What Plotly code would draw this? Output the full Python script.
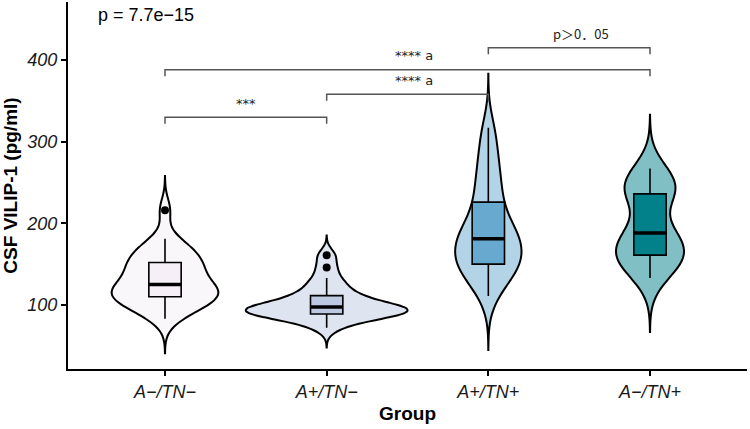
import numpy as np
import plotly.graph_objects as go

# ---------------- data ----------------
categories = ["A−/TN−", "A+/TN−", "A+/TN+", "A−/TN+"]

vals_a_neg_tn_neg = [83, 92, 97, 101, 104, 107, 110, 112, 115, 118, 120, 122, 125,
                     130, 136, 141, 145, 149, 152, 157, 162, 167, 172, 181, 216]
vals_a_pos_tn_neg = [72, 80, 85, 87, 88, 89, 89, 92, 94, 96, 97, 98, 99, 101, 104,
                     110, 112, 118, 125, 133, 146, 161]
vals_a_pos_tn_pos = [111, 128, 138, 144, 148, 150, 158, 165, 171, 176, 181, 186, 192,
                     200, 212, 226, 240, 255, 272, 292, 317]
vals_a_neg_tn_pos = [133, 148, 156, 161, 168, 174, 188, 194, 232, 236, 246, 252, 267]

group_values = [vals_a_neg_tn_neg, vals_a_pos_tn_neg, vals_a_pos_tn_pos, vals_a_neg_tn_pos]

y_ticks = [100, 200, 300, 400]

p_overall = "p = 7.7e−15"
comparison_pairs = [(0, 1), (1, 2), (0, 3), (2, 3)]
comparison_labels = ["***", "**** a", "**** a", "p＞0．05"]

# ---------------- styling ----------------
box_colors = ["#f6eff7", "#bdc9e1", "#67a9cf", "#02818a"]
violin_widths = [0.66, 1.0, 0.41, 0.42]
bandwidths = [14, 8, 22, 22]
bracket_levels = [330, 358, 388, 415]
label_xshift = [0, 6, 6, 12]
tip = 8
box_w = 0.2
FONT = "Liberation Sans, Arial, sans-serif"
CJK = "Noto Sans CJK SC"
STAR_FONT = "DejaVu Sans"


def hex_to_rgba(h, a):
    h = h.lstrip("#")
    r, g, b = int(h[0:2], 16), int(h[2:4], 16), int(h[4:6], 16)
    return f"rgba({r},{g},{b},{a})"


fig = go.Figure()

for i, (vals, col) in enumerate(zip(group_values, box_colors)):
    v = np.array(vals, dtype=float)
    bw = bandwidths[i]
    fig.add_trace(go.Violin(
        x=[i] * len(v), y=v,
        width=violin_widths[i], scalemode="width",
        bandwidth=bw, spanmode="manual", span=[v.min() - 3 * bw, v.max() + 3 * bw],
        fillcolor=hex_to_rgba(col, 0.5), line=dict(color="black", width=2),
        points=False, box_visible=False, meanline_visible=False,
        showlegend=False, hoverinfo="skip",
    ))

for i, (vals, col) in enumerate(zip(group_values, box_colors)):
    v = np.array(vals, dtype=float)
    q1, med, q3 = np.percentile(v, [25, 50, 75])
    iqr = q3 - q1
    inside = v[(v >= q1 - 1.5 * iqr) & (v <= q3 + 1.5 * iqr)]
    lo, hi = inside.min(), inside.max()
    outl = v[(v < lo) | (v > hi)]
    fig.add_trace(go.Box(
        x=[i], q1=[q1], median=[med], q3=[q3], lowerfence=[lo], upperfence=[hi],
        width=box_w, fillcolor=col, line=dict(color="black", width=1.6),
        whiskerwidth=0, boxpoints=False, showlegend=False, hoverinfo="skip",
    ))
    fig.add_trace(go.Scatter(
        x=[i - box_w / 2, i + box_w / 2], y=[med, med], mode="lines",
        line=dict(color="black", width=3.5), showlegend=False, hoverinfo="skip",
    ))
    if len(outl):
        fig.add_trace(go.Scatter(
            x=[i] * len(outl), y=outl, mode="markers",
            marker=dict(color="black", size=8), showlegend=False, hoverinfo="skip",
        ))

# significance brackets
for k, ((a, b), lab, yl) in enumerate(zip(comparison_pairs, comparison_labels, bracket_levels)):
    fig.add_trace(go.Scatter(
        x=[a, a, b, b], y=[yl - tip, yl, yl, yl - tip], mode="lines",
        line=dict(color="#555555", width=1.5), showlegend=False, hoverinfo="skip",
    ))
    is_p = "p" in lab
    fig.add_annotation(x=(a + b) / 2, y=yl, text=lab, showarrow=False,
                       xanchor="center", yanchor="middle",
                       yshift=14, xshift=label_xshift[k],
                       font=dict(family=CJK if is_p else STAR_FONT,
                                 size=13 if is_p else 13, color="#222222"))

fig.add_annotation(x=0.041, y=0.965, xref="paper", yref="paper", text=p_overall,
                   showarrow=False, xanchor="left", yanchor="middle",
                   font=dict(family=FONT, size=18, color="black"))

fig.update_layout(
    width=750, height=429,
    margin=dict(l=68, r=3, t=2, b=60),
    paper_bgcolor="white", plot_bgcolor="white",
    violinmode="overlay", boxmode="overlay",
    showlegend=False,
    font=dict(family=FONT),
)
fig.update_xaxes(
    range=[-0.6, 3.6], tickvals=list(range(len(categories))), ticktext=categories,
    showline=True, linecolor="black", linewidth=2, showgrid=False, zeroline=False,
    ticks="outside", ticklen=5, tickwidth=1.5, tickcolor="black",
    tickfont=dict(family=FONT, size=18, color="#1a1a1a", style="italic"),
    title=dict(text="Group", standoff=6,
               font=dict(family=FONT, size=19, color="black", weight="bold")),
    automargin=False,
)
fig.update_yaxes(
    range=[21.6, 471], tickvals=y_ticks,
    showline=True, linecolor="black", linewidth=2, showgrid=False, zeroline=False,
    ticks="outside", ticklen=5, tickwidth=1.5, tickcolor="black",
    tickfont=dict(family=FONT, size=18, color="#1a1a1a", style="italic"),
    title=dict(text="CSF VILIP-1 (pg/ml)", standoff=5,
               font=dict(family=FONT, size=19, color="black", weight="bold")),
    automargin=False,
)

fig.write_html("out.html", config={"displayModeBar": False},
               post_script="document.body.style.margin='0';")
